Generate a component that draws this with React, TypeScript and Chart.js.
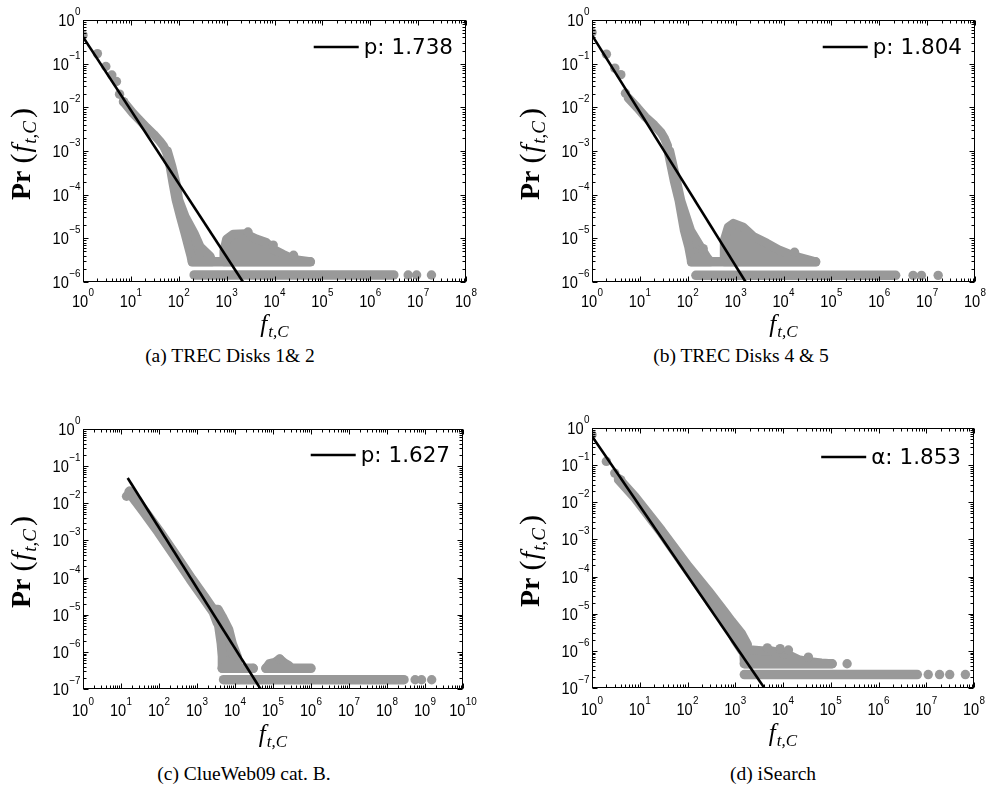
import React, { useEffect, useRef } from 'react';
import { Chart, registerables } from 'chart.js';

Chart.register(...registerables);

type Pt = [number, number];

// ---------- (a) TREC Disks 1& 2 ----------
const fitA: Pt[] = [[1, 0.41], [2200, 1e-6]];
const dotsA: Pt[] = [[1, 0.45], [2, 0.17], [3, 0.086], [4, 0.055], [5, 0.039], [5.8, 0.02], [7, 0.0135], [2800, 1.4e-5], [9400, 7e-6], [2.5e4, 4.1e-6], [6.2e6, 1.45e-6], [9.3e6, 1.45e-6], [1.9e7, 1.45e-6]];
const curveA: Pt[] = [[7, 0.0135], [11, 0.0074], [16, 0.0048], [21, 0.0035], [30, 0.0024], [40, 0.0017], [48, 0.0013], [54, 0.001]];
const dropA: Pt[] = [[55, 1.0e-3], [66, 4.4e-4], [76, 1.8e-4], [88, 7.6e-5], [108, 3.2e-5], [135, 1.3e-5], [160, 6.4e-6], [180, 3.9e-6], [190, 2.9e-6], [500, 2.9e-6], [450, 3.9e-6], [280, 6.4e-6], [210, 1.3e-5], [135, 3.2e-5], [100, 7.6e-5], [88, 1.8e-4], [72, 4.4e-4], [58, 1.0e-3]];
const blobA: Pt[] = [[880, 2.9e-6], [880, 5.2e-6], [1000, 9.6e-6], [1380, 1.24e-5], [2400, 1.28e-5], [4200, 9.6e-6], [6800, 8e-6], [9400, 5.6e-6], [1.5e4, 4.3e-6], [2.5e4, 3.3e-6], [5.6e4, 2.9e-6]];
const rowHighA: Pt[] = [[195, 2.9e-6], [5.6e4, 2.9e-6]];
const rowLowA: Pt[] = [[210, 1.45e-6], [3.1e6, 1.45e-6]];
const legendA = 'p: 1.738';
const captionA = '(a) TREC Disks 1& 2';

// ---------- (b) TREC Disks 4 & 5 ----------
const fitB: Pt[] = [[1, 0.45], [1620, 1e-6]];
const dotsB: Pt[] = [[1, 0.52], [2, 0.165], [3, 0.079], [4, 0.056], [5, 0.021], [210, 5.8e-6], [1.7e4, 4.8e-6], [5.1e6, 1.42e-6], [7.6e6, 1.42e-6], [1.7e7, 1.42e-6]];
const curveB: Pt[] = [[5.7, 0.0165], [9, 0.0096], [13, 0.006], [20, 0.0039], [28, 0.0026], [33, 0.0019], [38, 0.0013]];
const dropB: Pt[] = [[38, 1.1e-3], [52, 2.1e-4], [66, 7.2e-5], [85, 1.5e-5], [105, 6.3e-6], [115, 3.7e-6], [120, 2.9e-6], [300, 2.9e-6], [250, 3.7e-6], [186, 6.3e-6], [115, 1.5e-5], [72, 7.2e-5], [58, 2.1e-4], [42, 1e-3]];
const blobB: Pt[] = [[580, 2.9e-6], [580, 9e-6], [700, 1.8e-5], [900, 2.2e-5], [1450, 1.8e-5], [2350, 1.1e-5], [4450, 7.8e-6], [7800, 5.5e-6], [1.7e4, 3.9e-6], [3.3e4, 3.2e-6], [4.7e4, 2.9e-6]];
const rowHighB: Pt[] = [[120, 2.9e-6], [4.7e4, 2.9e-6]];
const rowLowB: Pt[] = [[148, 1.42e-6], [2.2e6, 1.42e-6]];
const legendB = 'p: 1.804';
const captionB = '(b) TREC Disks 4 & 5';

// ---------- (c) ClueWeb09 cat. B. ----------
const fitC: Pt[] = [[15, 0.048], [4.7e4, 1e-7]];
const dotsC: Pt[] = [[14, 0.0155], [17, 0.021], [9100, 7.6e-7], [3e4, 3.6e-7], [1.5e5, 6.4e-7], [5.5e8, 1.78e-7], [8.1e8, 1.78e-7], [1.5e9, 1.78e-7]];
const curveC: Pt[] = [[17, 0.02], [40, 0.0062], [100, 1.7e-3], [300, 3.3e-4], [700, 9e-5], [1500, 3e-5], [2800, 1.2e-5], [3600, 6e-6]];
const dropC: Pt[] = [[2700, 1.4e-5], [3600, 6e-6], [4300, 1.7e-6], [4600, 7.6e-7], [4600, 3.6e-7], [1.2e4, 3.6e-7], [1.15e4, 7.6e-7], [8500, 1.7e-6], [6900, 4e-6], [4600, 9e-6], [3600, 1.4e-5]];
const blobC: Pt[] = [[6.5e4, 3.6e-7], [8e4, 4.8e-7], [1.1e5, 5.2e-7], [1.5e5, 6.4e-7], [2e5, 5e-7], [2.6e5, 4.3e-7], [3e5, 3.6e-7]];
const rowHighC1: Pt[] = [[4600, 3.6e-7], [3e4, 3.6e-7]];
const rowHighC2: Pt[] = [[6.5e4, 3.6e-7], [1e6, 3.6e-7]];
const rowLowC: Pt[] = [[5000, 1.78e-7], [2.8e8, 1.78e-7]];
const legendC = 'p: 1.627';
const captionC = '(c) ClueWeb09 cat. B.';

// ---------- (d) iSearch ----------
const fitD: Pt[] = [[1, 0.6], [4070, 1e-7]];
const dotsD: Pt[] = [[1, 0.66], [2, 0.126], [3, 0.061], [4, 0.04], [4700, 1.2e-6], [8700, 1.15e-6], [1.3e4, 1.05e-6], [3.4e4, 6.8e-7], [2.2e5, 4.5e-7], [1.1e7, 2.3e-7], [1.9e7, 2.3e-7], [3.1e7, 2.3e-7], [6.6e7, 2.3e-7]];
const bandD: Pt[] = [[3.56, 0.0447], [7.95, 0.0143], [28.7, 1.75e-3], [104, 1.9e-4], [272, 4.2e-5], [609, 1.1e-5], [839, 6.3e-6], [1360, 2.9e-6], [1800, 1.5e-6], [1360, 1.03e-6], [986, 1.93e-6], [715, 4.4e-6], [272, 2.32e-5], [104, 1.35e-4], [28.7, 1.46e-3], [7.95, 0.0129], [3.56, 0.0403]];
const midD: Pt[] = [[1550, 4.5e-7], [1500, 1.1e-6], [3560, 1.0e-6], [5800, 1.0e-6], [9300, 8.8e-7], [1.3e4, 7.9e-7], [2.1e4, 5.8e-7], [3.4e4, 5.2e-7], [6.4e4, 4.7e-7], [1.07e5, 4.5e-7]];
const rowHighD: Pt[] = [[1550, 4.5e-7], [1.07e5, 4.5e-7]];
const rowLowD: Pt[] = [[1550, 2.3e-7], [6.5e6, 2.3e-7]];
const legendD = 'α: 1.853';
const captionD = '(d) iSearch';

// ---------- tick labels (exponents of 10) ----------
const xExpAB = [0, 1, 2, 3, 4, 5, 6, 7, 8];
const xExpC = [0, 1, 2, 3, 4, 5, 6, 7, 8, 9, 10];
const yExpAB = [0, -1, -2, -3, -4, -5, -6];
const yExpCD = [0, -1, -2, -3, -4, -5, -6, -7];

const GRAY = '#999999';

interface Spec {
  key: string;
  left: number; top: number; w: number; h: number;
  pad: { left: number; top: number; right: number; bottom: number };
  xExp: number[]; yExp: number[];
  fit: Pt[]; dots: Pt[];
  ribbons: { pts: Pt[]; w: number }[];
  shapes: Pt[][];
  legend: string;
  tickOff: number; titleOff: number; legendOff: number;
  caption: string; capX: number; capY: number;
}

const specs: Spec[] = [
  {
    key: 'a', left: 0, top: 0, w: 497, h: 345, pad: { left: 83, top: 20, right: 31, bottom: 63 },
    xExp: xExpAB, yExp: yExpAB, fit: fitA, dots: dotsA,
    ribbons: [{ pts: curveA, w: 9 }, { pts: rowHighA, w: 9.5 }, { pts: rowLowA, w: 9.5 }],
    shapes: [dropA, blobA], legend: legendA, tickOff: 25, titleOff: 50, legendOff: 27,
    caption: captionA, capX: 230, capY: 362,
  },
  {
    key: 'b', left: 497, top: 0, w: 498, h: 345, pad: { left: 95, top: 20, right: 20, bottom: 63 },
    xExp: xExpAB, yExp: yExpAB, fit: fitB, dots: dotsB,
    ribbons: [{ pts: curveB, w: 9 }, { pts: rowHighB, w: 9.5 }, { pts: rowLowB, w: 9.5 }],
    shapes: [dropB, blobB], legend: legendB, tickOff: 25, titleOff: 50, legendOff: 27,
    caption: captionB, capX: 741, capY: 362,
  },
  {
    key: 'c', left: 0, top: 400, w: 497, h: 355, pad: { left: 83, top: 29, right: 34, bottom: 66 },
    xExp: xExpC, yExp: yExpCD, fit: fitC, dots: dotsC,
    ribbons: [{ pts: curveC, w: 11 }, { pts: rowHighC1, w: 9.5 }, { pts: rowHighC2, w: 9.5 }, { pts: rowLowC, w: 9.5 }],
    shapes: [dropC, blobC], legend: legendC, tickOff: 27, titleOff: 53, legendOff: 26,
    caption: captionC, capX: 244, capY: 780,
  },
  {
    key: 'd', left: 497, top: 400, w: 498, h: 355, pad: { left: 95, top: 28, right: 21, bottom: 67 },
    xExp: xExpAB, yExp: yExpCD, fit: fitD, dots: dotsD,
    ribbons: [{ pts: rowHighD, w: 9.5 }, { pts: rowLowD, w: 9.5 }],
    shapes: [bandD, midD], legend: legendD, tickOff: 27, titleOff: 53, legendOff: 29,
    caption: captionD, capX: 773, capY: 780,
  },
];

const toXY = (pts: Pt[]) => pts.map(([x, y]) => ({ x, y }));
const closed = (pts: Pt[]): Pt[] => [...pts, pts[0]];

function makeDatasets(s: Spec): any[] {
  return [
    { data: toXY(s.fit), showLine: true, borderColor: '#000000', borderWidth: 2.6, pointRadius: 0, fill: false },
    { data: toXY(s.dots), showLine: false, pointRadius: 4.7, pointBackgroundColor: GRAY, pointBorderWidth: 0, pointBorderColor: GRAY },
    ...s.ribbons.map((r) => ({
      data: toXY(r.pts), showLine: true, borderColor: GRAY, borderWidth: r.w,
      borderCapStyle: 'round', borderJoinStyle: 'round', pointRadius: 0, fill: false,
    })),
    ...s.shapes.map((p) => ({
      data: toXY(closed(p)), showLine: true, borderColor: GRAY, backgroundColor: GRAY, borderWidth: 9,
      borderCapStyle: 'round', borderJoinStyle: 'round', pointRadius: 0, fill: 'shape',
    })),
  ];
}

const supStr = (e: number) => (e < 0 ? '\u2212' + String(-e) : String(e));
const SANS = '"Liberation Sans", Arial, sans-serif';
const SERIF = '"Liberation Serif", "Times New Roman", serif';
const SQ = 0.86;

function makeFrame(s: Spec) {
  return {
    id: 'frame_' + s.key,
    afterDraw(chart: any) {
      const { ctx, chartArea: a } = chart;
      const xs = chart.scales.x;
      const ys = chart.scales.y;
      const L = Math.round(a.left) + 0.5;
      const R = Math.round(a.right) - 0.5;
      const T = Math.round(a.top) + 0.5;
      const B = Math.round(a.bottom) - 0.5;
      ctx.save();
      ctx.strokeStyle = '#000';
      ctx.fillStyle = '#000';
      ctx.lineWidth = 1;
      ctx.strokeRect(L, T, R - L, B - T);

      // ticks
      ctx.beginPath();
      const xe0 = s.xExp[0];
      const xe1 = s.xExp[s.xExp.length - 1];
      for (let e = xe0; e <= xe1; e++) {
        for (let k = 1; k <= 9; k++) {
          if (e === xe1 && k > 1) break;
          const px = Math.round(xs.getPixelForValue(k * Math.pow(10, e))) + 0.5;
          const len = k === 1 ? 5 : 3;
          ctx.moveTo(px, B); ctx.lineTo(px, B - len);
          ctx.moveTo(px, T); ctx.lineTo(px, T + len);
        }
      }
      const ye0 = s.yExp[s.yExp.length - 1];
      const ye1 = s.yExp[0];
      for (let e = ye0; e <= ye1; e++) {
        for (let k = 1; k <= 9; k++) {
          if (e === ye1 && k > 1) break;
          const py = Math.round(ys.getPixelForValue(k * Math.pow(10, e))) + 0.5;
          const len = k === 1 ? 5 : 3;
          ctx.moveTo(L, py); ctx.lineTo(L + len, py);
          ctx.moveTo(R, py); ctx.lineTo(R - len, py);
        }
      }
      ctx.stroke();

      // tick labels
      const big = '17px ' + SANS;
      const small = '11.5px ' + SANS;
      ctx.textBaseline = 'alphabetic';
      ctx.textAlign = 'left';
      const drawLabel = (x: number, y: number, e: number) => {
        ctx.save();
        ctx.translate(x, y);
        ctx.scale(SQ, 1);
        ctx.font = big;
        const w1 = ctx.measureText('10').width;
        ctx.fillText('10', 0, 0);
        ctx.font = small;
        ctx.fillText(supStr(e), w1 + 0.5, -11);
        ctx.restore();
      };
      const labelWidth = (e: number) => {
        ctx.font = big;
        const w1 = ctx.measureText('10').width;
        ctx.font = small;
        const w2 = ctx.measureText(supStr(e)).width;
        return (w1 + 0.5 + w2) * SQ;
      };
      for (const e of s.xExp) {
        const px = xs.getPixelForValue(Math.pow(10, e));
        const w = labelWidth(e);
        drawLabel(px - w / 2, B + s.tickOff, e);
      }
      for (const e of s.yExp) {
        const py = ys.getPixelForValue(Math.pow(10, e));
        const w = labelWidth(e);
        drawLabel(L - 3 - w, py + 6, e);
      }

      // x title  f_{t,C}
      ctx.font = 'italic 25px ' + SERIF;
      const wf = ctx.measureText('f').width;
      ctx.font = 'italic 17px ' + SERIF;
      const wsub = ctx.measureText('t,C').width;
      const xt = (a.left + a.right) / 2 - (wf + 1 + wsub) / 2;
      ctx.font = 'italic 25px ' + SERIF;
      ctx.fillText('f', xt, B + s.titleOff);
      ctx.font = 'italic 17px ' + SERIF;
      ctx.fillText('t,C', xt + wf + 1, B + s.titleOff + 5);

      // y title  Pr(f_{t,C})
      const pieces = [
        { t: 'Pr', f: 'bold 28px ' + SERIF, dy: 0, gap: 7 },
        { t: '(', f: '30px ' + SERIF, dy: 1, gap: 1 },
        { t: 'f', f: 'italic 28px ' + SERIF, dy: 0, gap: 1 },
        { t: 't,C', f: 'italic 19px ' + SERIF, dy: 6, gap: 3 },
        { t: ')', f: '30px ' + SERIF, dy: 1, gap: 0 },
      ];
      let total = 0;
      const widths = pieces.map((p) => {
        ctx.font = p.f;
        const w = ctx.measureText(p.t).width;
        total += w + p.gap;
        return w;
      });
      ctx.save();
      ctx.translate(L - 54, (a.top + a.bottom) / 2 + 3);
      ctx.rotate(-Math.PI / 2);
      let cx = -total / 2;
      pieces.forEach((p, i) => {
        ctx.font = p.f;
        ctx.fillText(p.t, cx, p.dy);
        cx += widths[i] + p.gap;
      });
      ctx.restore();

      // legend
      ctx.font = '21.5px "DejaVu Sans", sans-serif';
      const tw = ctx.measureText(s.legend).width;
      const tx = a.right - 13 - tw;
      const ly = a.top + s.legendOff;
      ctx.textBaseline = 'middle';
      ctx.fillText(s.legend, tx, ly + 1);
      ctx.beginPath();
      ctx.lineWidth = 2.6;
      ctx.moveTo(tx - 50, ly);
      ctx.lineTo(tx - 5, ly);
      ctx.stroke();
      ctx.restore();
    },
  };
}

function Panel({ spec }: { spec: Spec }) {
  const ref = useRef<HTMLCanvasElement>(null);
  useEffect(() => {
    const canvas = ref.current;
    if (!canvas) return;
    const chart = new Chart(canvas, {
      type: 'line',
      data: { datasets: makeDatasets(spec) },
      options: {
        animation: false,
        responsive: false,
        devicePixelRatio: 1,
        events: [],
        layout: { padding: spec.pad },
        scales: {
          x: {
            type: 'logarithmic',
            min: Math.pow(10, spec.xExp[0]),
            max: Math.pow(10, spec.xExp[spec.xExp.length - 1]),
            display: false,
          },
          y: {
            type: 'logarithmic',
            min: Math.pow(10, spec.yExp[spec.yExp.length - 1]),
            max: Math.pow(10, spec.yExp[0]),
            display: false,
          },
        },
        plugins: { legend: { display: false }, tooltip: { enabled: false } },
      } as any,
      plugins: [makeFrame(spec)],
    });
    return () => chart.destroy();
  }, [spec]);
  return (
    <canvas
      ref={ref}
      width={spec.w}
      height={spec.h}
      style={{ position: 'absolute', left: spec.left, top: spec.top, width: spec.w, height: spec.h }}
    />
  );
}

export default function App() {
  return (
    <div style={{ position: 'absolute', left: 0, top: 0, width: 995, height: 791, background: '#ffffff', overflow: 'hidden' }}>
      {specs.map((s) => (
        <Panel key={s.key} spec={s} />
      ))}
      {specs.map((s) => (
        <div
          key={'cap' + s.key}
          style={{
            position: 'absolute', left: s.capX - 150, width: 300, top: s.capY - 16,
            textAlign: 'center', fontFamily: SERIF, fontSize: 19.5,
            lineHeight: '20px', color: '#000', whiteSpace: 'nowrap',
          }}
        >
          {s.caption}
        </div>
      ))}
    </div>
  );
}
